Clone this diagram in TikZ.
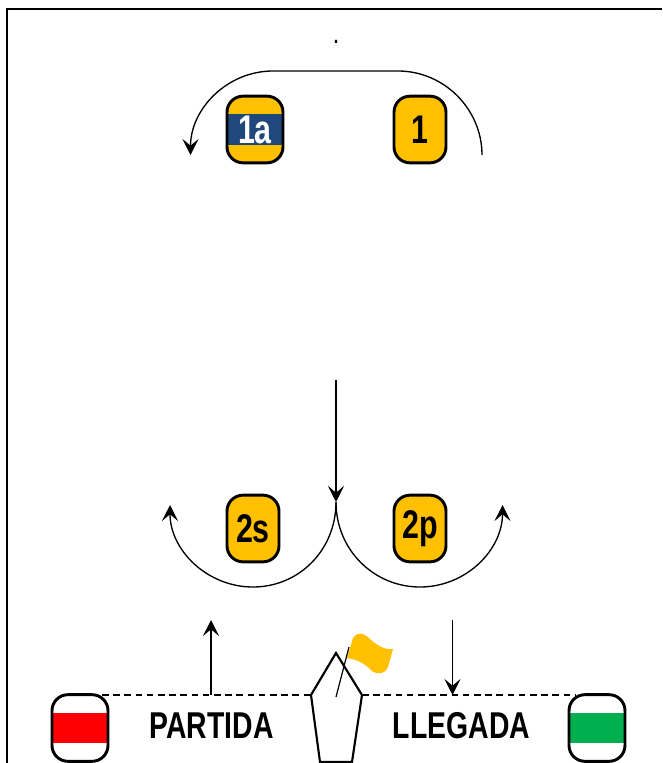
\documentclass[tikz,border=0pt]{standalone}
\usepackage{fontspec}
\setmainfont[FakeStretch=0.76]{Liberation Sans}
\usetikzlibrary{arrows.meta}
\definecolor{amarillo}{HTML}{FFC000}
\definecolor{azul}{HTML}{1F497D}
\definecolor{rojo}{HTML}{FF0000}
\definecolor{verde}{HTML}{00B050}
\tikzset{
    boya/.style={draw=black, line width=2.2pt, fill=amarillo, rounded corners=12pt,
        minimum height=50pt, inner sep=0pt, font=\fontsize{30}{30}\selectfont\bfseries},
    franja/.style={path picture={
        \fill[#1, sharp corners] ([yshift=-11.6pt]path picture bounding box.west) rectangle ([yshift=11.6pt]path picture bounding box.east);
    }},
    rotulo/.style={font=\fontsize{28}{28}\selectfont\bfseries, inner sep=0pt},
    ruta/.style={line width=1pt, -{Stealth[length=12pt,width=12pt,inset=5pt]}},
    linea/.style={line width=1pt, dash pattern=on 5pt off 3.4pt}
}
\begin{document}
\begin{tikzpicture}[x=0.75pt, y=-0.75pt]
    % Marco
    \useasboundingbox (0,0) rectangle (662,763);
    \draw[line width=1.9pt] (7,763) -- (7,9) -- (662,9);
    \node[font=\bfseries\fontsize{16}{16}\selectfont, inner sep=0pt] (punto) at (336,42) {.};

    % Boyas
    \node[boya, minimum width=42pt, franja=azul, text=white] (b1a) at (255,129.5) {1a};
    \node[boya, minimum width=39pt] (b1) at (420,129.5) {1};
    \node[boya, minimum width=39pt] (b2s) at (253,528.5) {2s};
    \node[boya, minimum width=39pt] (b2p) at (420,528.5) {2p};
    \node[boya, minimum width=42pt, fill=white, franja=rojo] (partida) at (80,728) {};
    \node[boya, minimum width=42pt, fill=white, franja=verde] (llegada) at (597,728) {};

    % Barco
    \coordinate (proa) at (336,653);
    \coordinate (babor) at (311,695);
    \coordinate (estribor) at (362,695);
    \fill[amarillo] (347,658) -- (353,638)
        .. controls (358,631) and (364,633) .. (370,639)
        .. controls (378,646) and (385,650) .. (393,649)
        -- (388,667) .. controls (385,674) and (378,675) .. (372,671)
        .. controls (366,665) and (360,660) .. (347,658) -- cycle;
    \draw[line width=1.6pt] (proa) -- (estribor) -- (352,762) -- (320,762) -- (babor) -- cycle;
    \draw[line width=0.9pt] (336,697) -- (349,647);

    % Linea de salida
    \draw[linea] (102,695) -- (babor);
    \draw[linea] (estribor) -- (575,695);

    % Textos
    \node[rotulo] (tpartida) at (211.5,725.5) {PARTIDA};
    \node[rotulo] (tllegada) at (461.5,725.5) {LLEGADA};

    % Recorrido
    \coordinate (c1) at (482,155);
    \coordinate (c1a) at (190.5,155);
    \draw[ruta] (c1) .. controls (482,109) and (444,71) .. (398,71) -- (273,71)
        .. controls (227,71) and (190.5,109) .. (c1a);
    \coordinate (c2) at (336,380);
    \coordinate (c3) at (336,502);
    \draw[ruta] (c2) -- (c3);
    \coordinate (c2s) at (170,505);
    \coordinate (c2p) at (502.5,505);
    \draw[ruta] (c3) .. controls (336,550) and (299,587) .. (253,587)
        .. controls (207,587) and (170,550) .. (c2s);
    \draw[ruta] (c3) .. controls (336,550) and (374,587) .. (420,587)
        .. controls (466,587) and (502.5,550) .. (c2p);
    \coordinate (s1) at (211,695);
    \coordinate (s2) at (211,620);
    \draw[ruta] (s1) -- (s2);
    \coordinate (l1) at (452.5,620);
    \coordinate (l2) at (452.5,695);
    \draw[ruta] (l1) -- (l2);
\end{tikzpicture}
\end{document}
